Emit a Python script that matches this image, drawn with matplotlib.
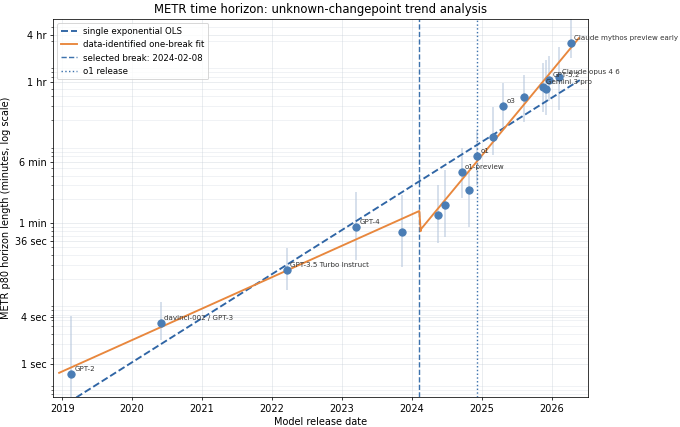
import numpy as np
import matplotlib
matplotlib.use("Agg")
import matplotlib.pyplot as plt
from matplotlib.ticker import FixedLocator, FixedFormatter, LogLocator, NullFormatter

# ---- data (decimal year, p80 horizon in minutes, CI low/high in minutes) ----
labels = ["GPT-2", "davinci-002 / GPT-3", "GPT-3.5 Turbo Instruct", "GPT-4", "",
          "", "", "o1-preview", "", "o1", "", "o3", "",
          "Gemini 3 pro", "", "GPT-5.2", "Claude opus 4 6", "Claude mythos preview early"]
dates = [2019.13, 2020.41, 2022.21, 2023.20, 2023.86,
         2024.37, 2024.47, 2024.71, 2024.81, 2024.93, 2025.16, 2025.30, 2025.60,
         2025.87, 2025.91, 2025.96, 2026.10, 2026.27]
horizon = [0.0126, 0.0558, 0.258, 0.898, 0.777,
           1.27, 1.70, 4.43, 2.63, 7.06, 12.2, 30.1, 39.1,
           53.0, 50.0, 64.0, 69.8, 187.5]
ci_low = [0.003, 0.0338, 0.144, 0.344, 0.281,
          0.565, 0.672, 2.08, 0.90, 3.0, 7.27, 16.4, 18.9,
          25.3, 23.0, 35.0, 26.9, 120.0]
ci_high = [0.0678, 0.1026, 0.488, 2.48, 2.27,
           3.04, 4.70, 8.9, 4.43, 15.0, 29.2, 58.8, 74.0,
           105.0, 115.0, 130.0, 168.0, 430.0]

# fitted trends: log10(minutes) = intercept + slope * (year - ref)
ols_span = [2018.96, 2026.40]
ols_intercept_2019 = -2.309
ols_slope = 0.556
break_date = 2024.106          # 2024-02-08
seg1_span = [2018.957, 2024.106]
seg1_at_start = -1.886
seg1_slope = 0.3964
seg2_span = [2024.106, 2026.386]
seg2_at_break = -0.099
seg2_slope = 1.067
o1_release = 2024.93

ytick_vals = [1/60, 4/60, 0.6, 1, 6, 60, 240]
ytick_labels = ["1 sec", "4 sec", "36 sec", "1 min", "6 min", "1 hr", "4 hr"]
xtick_vals = [2019, 2020, 2021, 2022, 2023, 2024, 2025, 2026]

# ---- figure ----
fig = plt.figure(figsize=(10, 6.28), dpi=68)
ax = fig.add_axes([0.078, 0.0703, 0.787, 0.8852])

pt_color = "#4a7db5"
ols_color = "#2f65a5"
fit_color = "#e8873d"

d = np.array(dates); h = np.array(horizon)
ax.vlines(d, ci_low, ci_high, color="#b9c9de", lw=1.6, alpha=0.75, zorder=1)
ax.scatter(d, h, s=60, color=pt_color, zorder=4)

xo = np.linspace(ols_span[0], ols_span[1], 200)
ax.plot(xo, 10 ** (ols_intercept_2019 + ols_slope * (xo - 2019)), ls="--",
        color=ols_color, lw=2.0, label="single exponential OLS", zorder=3)

x1 = np.linspace(seg1_span[0], seg1_span[1], 100)
x2 = np.linspace(seg2_span[0], seg2_span[1], 100)
y1 = seg1_at_start + seg1_slope * (x1 - seg1_span[0])
y2 = seg2_at_break + seg2_slope * (x2 - break_date)
xf = np.concatenate([x1, x2 + 0.02 * (x2 == x2[0])])
yf = np.concatenate([y1, y2])
ax.plot(xf, 10 ** yf, color=fit_color, lw=2.0, label="data-identified one-break fit", zorder=3)

ax.axvline(break_date, color="#3d72ad", ls="--", lw=1.5,
           label="selected break: 2024-02-08", zorder=2)
ax.axvline(o1_release, color="#3d72ad", ls=":", lw=1.5,
           label="o1 release", zorder=2)

for lab, xv, yv in zip(labels, dates, horizon):
    if lab:
        ax.annotate(lab, (xv, yv), xytext=(3.5, 5), textcoords="offset points",
                    ha="left", va="center", fontsize=7.5, color="#333333",
                    annotation_clip=False, zorder=5)

ax.set_yscale("log")
ax.set_xlim(2018.87, 2026.52)
ax.set_ylim(0.00645, 377)
ax.yaxis.set_major_locator(FixedLocator(ytick_vals))
ax.yaxis.set_major_formatter(FixedFormatter(ytick_labels))
ax.yaxis.set_minor_locator(LogLocator(base=10, subs=np.arange(2, 10), numticks=20))
ax.yaxis.set_minor_formatter(NullFormatter())
ax.set_xticks(xtick_vals)
ax.set_xticklabels([str(v) for v in xtick_vals])
ax.tick_params(labelsize=10.3)

ax.grid(True, which="major", color="#c8d0da", alpha=0.5, lw=0.8)
ax.grid(True, which="minor", axis="y", color="#c8d0da", alpha=0.4, lw=0.7)
ax.set_axisbelow(True)

ax.set_title("METR time horizon: unknown-changepoint trend analysis", fontsize=12.3)
ax.set_xlabel("Model release date", fontsize=10.3)
ax.set_ylabel("METR p80 horizon length (minutes, log scale)", fontsize=10.3)
ax.legend(loc="upper left", fontsize=9.2, framealpha=0.8, handlelength=1.8)

fig.savefig("out.png", dpi=68)
